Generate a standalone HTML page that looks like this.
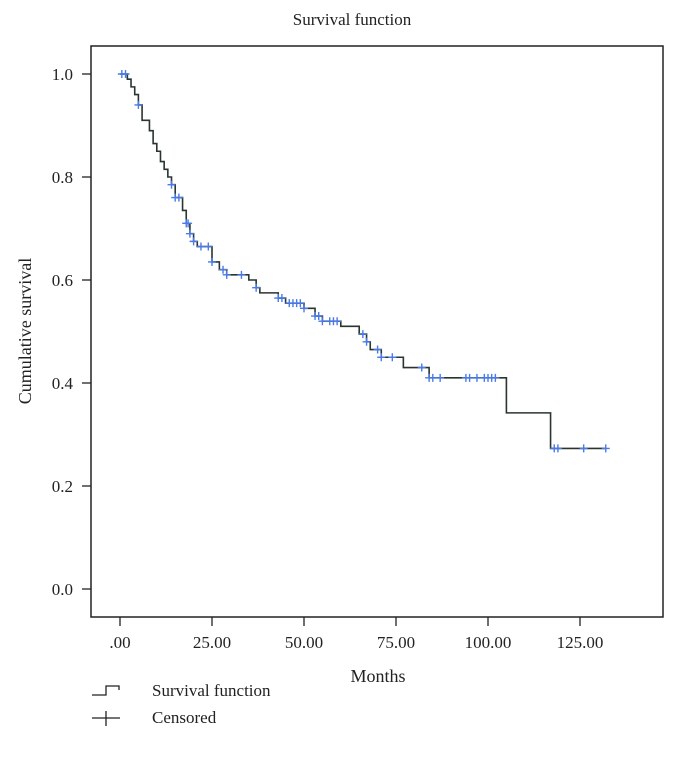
<!DOCTYPE html>
<html><head><meta charset="utf-8"><style>
body{margin:0;background:#fff;}
svg text{font-family:"Liberation Serif",serif;fill:#222;}
</style></head><body>
<svg id="chart" width="678" height="768">
<text x="352" y="25" font-size="17" text-anchor="middle">Survival function</text>
<rect x="91" y="46" width="572" height="571" fill="none" stroke="#222" stroke-width="1.5"/>
<g id="axes"></g>
<g id="marks"></g>
<text x="378" y="682" font-size="18" text-anchor="middle">Months</text>
<text transform="translate(31,331) rotate(-90)" font-size="18" text-anchor="middle">Cumulative survival</text>
<g>
<path d="M92,695 H106 V686 H119 V690" fill="none" stroke="#222" stroke-width="1.3"/>
<text x="152" y="696" font-size="17">Survival function</text>
<path d="M92,718 H120 M106,711 V726" fill="none" stroke="#222" stroke-width="1.3"/>
<text x="152" y="723" font-size="17">Censored</text>
</g>
</svg>
<script>
const eventTimes=[0,2,3,4,5,6,8,9,10,11,12,13,14,15,17,18,19,20,21,25,27,29,35,37,38,43,45,50,53,55,60,65,67,68,71,77,84,105,117];
const survivalValues=[1,0.99,0.975,0.96,0.94,0.91,0.89,0.865,0.85,0.83,0.815,0.80,0.785,0.76,0.735,0.71,0.69,0.675,0.665,0.635,0.62,0.61,0.60,0.585,0.575,0.565,0.555,0.545,0.53,0.52,0.51,0.495,0.48,0.465,0.45,0.43,0.41,0.342,0.273];
const endTime=132;
const censoredTimes=[0.5,1.5,5,14,15,16,18,18.5,19,20,22,24,25,28,29,33,37,43,44,46,47,48,49,50,53,54,55,57,58,59,66,67,70,71,74,82,84,85,87,94,95,97,99,100,101,102,118,119,126,132];
const yTicks=[0,0.2,0.4,0.6,0.8,1.0];
const yTickLabels=["0.0","0.2","0.4","0.6","0.8","1.0"];
const xTicks=[0,25,50,75,100,125];
const xTickLabels=[".00","25.00","50.00","75.00","100.00","125.00"];
const NS="http://www.w3.org/2000/svg";
const xs=m=>120+3.68*m, ys=v=>589-515*v;
function mk(t,a,p){const e=document.createElementNS(NS,t);for(const k in a)e.setAttribute(k,a[k]);p.appendChild(e);return e;}
const axes=document.getElementById('axes'),marks=document.getElementById('marks');
yTicks.forEach((v,i)=>{
 const l=mk('line',{x1:82,x2:91,y1:ys(v),y2:ys(v),stroke:'#222','stroke-width':1.3},axes);
 
 
 const t=mk('text',{x:73,y:ys(v)+6,'font-size':17,'text-anchor':'end'},axes);t.textContent=yTickLabels[i];
 
 
});
xTicks.forEach((v,i)=>{
 const l=mk('line',{x1:xs(v),x2:xs(v),y1:617,y2:626,stroke:'#222','stroke-width':1.3},axes);
 
 
 const t=mk('text',{x:xs(v),y:648,'font-size':17,'text-anchor':'middle'},axes);t.textContent=xTickLabels[i];
 
 
});
let d='M'+xs(eventTimes[0])+','+ys(survivalValues[0]);
for(let i=1;i<eventTimes.length;i++){d+=' H'+xs(eventTimes[i])+' V'+ys(survivalValues[i]);}
d+=' H'+xs(endTime);
const path=mk('path',{d:d,fill:'none',stroke:'#2a3530','stroke-width':1.6},marks);


function S(t){let s=1;for(let i=0;i<eventTimes.length;i++){if(eventTimes[i]<=t)s=survivalValues[i];}return s;}
censoredTimes.forEach(t=>{
 const x=xs(t),y=ys(S(t));
 const c=mk('path',{d:`M${x-4},${y} H${x+4} M${x},${y-4} V${y+4}`,stroke:'#4a7be8','stroke-width':1.4,fill:'none'},marks);
 
 
});
</script>
</body></html>
